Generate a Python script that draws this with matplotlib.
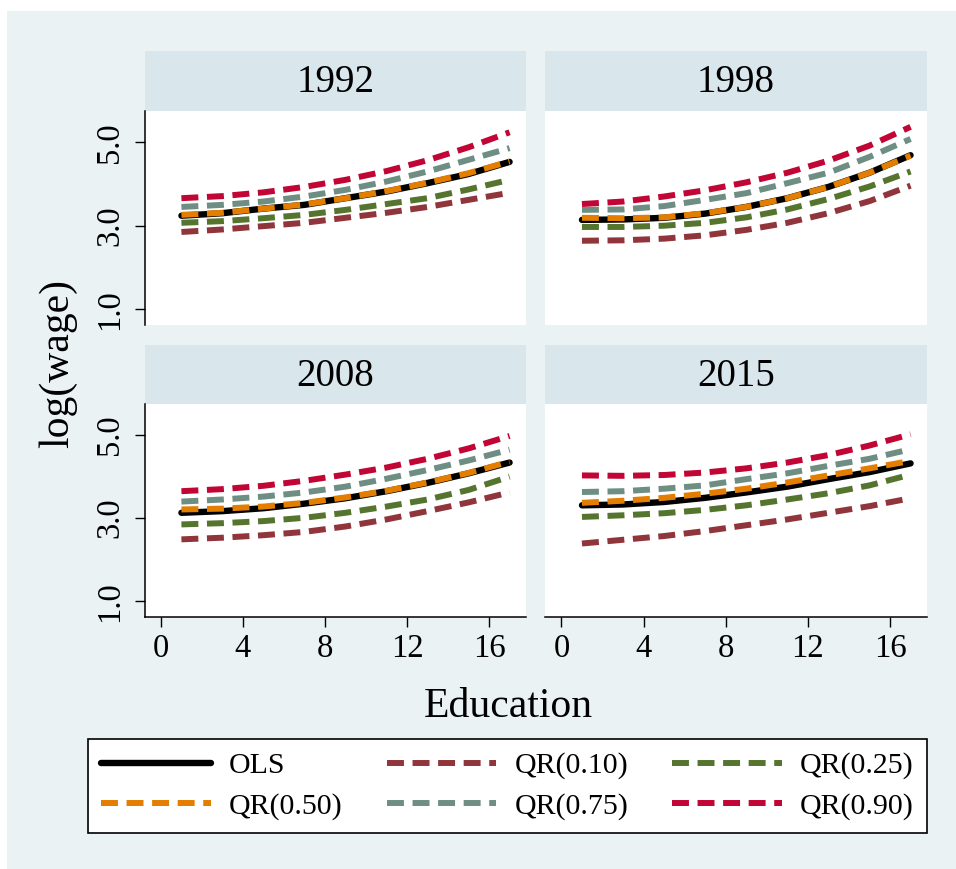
import matplotlib
matplotlib.use("Agg")
import matplotlib.pyplot as plt
from matplotlib.patches import Rectangle

plt.rcParams["font.family"] = ["Liberation Serif", "DejaVu Serif"]
plt.rcParams["lines.scale_dashes"] = False

# ---- data (log wage at given years of education) ----
years = ["1992", "1998", "2008", "2015"]
educ = [1, 3, 5, 7, 9, 11, 13, 15, 17]

ols = [
    [3.24, 3.30, 3.41, 3.50, 3.66, 3.82, 4.02, 4.24, 4.53],
    [3.14, 3.15, 3.19, 3.29, 3.45, 3.66, 3.93, 4.27, 4.69],
    [3.13, 3.17, 3.24, 3.35, 3.48, 3.65, 3.85, 4.08, 4.34],
    [3.31, 3.33, 3.39, 3.49, 3.62, 3.76, 3.94, 4.11, 4.32],
]
qr10 = [
    [2.85, 2.91, 2.99, 3.07, 3.19, 3.31, 3.45, 3.62, 3.79],
    [2.64, 2.65, 2.69, 2.77, 2.90, 3.07, 3.30, 3.59, 3.96],
    [2.49, 2.53, 2.59, 2.67, 2.80, 2.97, 3.17, 3.38, 3.62],
    [2.39, 2.48, 2.57, 2.69, 2.83, 2.97, 3.13, 3.29, 3.48],
]
qr25 = [
    [3.07, 3.11, 3.18, 3.26, 3.38, 3.52, 3.66, 3.87, 4.10],
    [2.97, 2.97, 3.00, 3.07, 3.20, 3.39, 3.64, 3.94, 4.30],
    [2.85, 2.88, 2.93, 3.01, 3.13, 3.28, 3.45, 3.68, 4.00],
    [3.03, 3.07, 3.12, 3.20, 3.31, 3.45, 3.60, 3.79, 4.05],
]
qr50 = [
    [3.26, 3.31, 3.41, 3.51, 3.66, 3.83, 4.03, 4.26, 4.54],
    [3.19, 3.18, 3.20, 3.30, 3.45, 3.66, 3.93, 4.27, 4.68],
    [3.21, 3.23, 3.28, 3.37, 3.50, 3.66, 3.86, 4.09, 4.36],
    [3.37, 3.42, 3.49, 3.59, 3.71, 3.86, 4.03, 4.20, 4.38],
]
qr75 = [
    [3.45, 3.50, 3.58, 3.70, 3.86, 4.06, 4.30, 4.58, 4.86],
    [3.38, 3.39, 3.47, 3.62, 3.78, 4.02, 4.27, 4.65, 5.08],
    [3.40, 3.45, 3.52, 3.62, 3.76, 3.95, 4.16, 4.39, 4.65],
    [3.63, 3.65, 3.71, 3.79, 3.94, 4.08, 4.26, 4.43, 4.66],
]
qr90 = [
    [3.66, 3.71, 3.80, 3.93, 4.10, 4.31, 4.57, 4.88, 5.24],
    [3.52, 3.58, 3.70, 3.85, 4.04, 4.27, 4.56, 4.92, 5.37],
    [3.65, 3.70, 3.78, 3.90, 4.05, 4.22, 4.43, 4.68, 4.98],
    [4.03, 4.02, 4.04, 4.10, 4.20, 4.34, 4.52, 4.75, 5.02],
]

series = [
    ("OLS", ols, "black"),
    ("QR(0.10)", qr10, "#90353B"),
    ("QR(0.25)", qr25, "#55752F"),
    ("QR(0.50)", qr50, "#E37E00"),
    ("QR(0.75)", qr75, "#6E8E84"),
    ("QR(0.90)", qr90, "#C10534"),
]

BG = "#EAF2F3"
HEAD = "#D9E6EB"
DASH = (12.2, 6.2)
W, H = 956, 869


def fx(px):
    return px / W


def fy(py):
    return 1 - py / H


fig = plt.figure(figsize=(W / 100, H / 100), dpi=100, facecolor="white")
fig.patches.append(Rectangle((fx(7), 0), 1 - fx(7), fy(11), transform=fig.transFigure,
                             facecolor=BG, edgecolor="none", zorder=-10))

cols = [(144.5, 526), (545, 927)]
rows = [(51, 111, 325), (345, 404, 617)]

handles = {}
for i, yr in enumerate(years):
    r, c = divmod(i, 2)
    x0, x1 = cols[c]
    htop, ptop, pbot = rows[r]
    # panel header strip
    hax = fig.add_axes([fx(x0), fy(ptop), fx(x1) - fx(x0), fy(htop) - fy(ptop)])
    hax.set_facecolor(HEAD)
    hax.set_xticks([])
    hax.set_yticks([])
    for s in hax.spines.values():
        s.set_visible(False)
    hax.text(0.5, 0.47, yr, ha="center", va="center", fontsize=28, transform=hax.transAxes)

    ax = fig.add_axes([fx(x0), fy(pbot), fx(x1) - fx(x0), fy(ptop) - fy(pbot)])
    ax.set_facecolor("white")
    for name, data, color in series:
        if name == "OLS":
            ln, = ax.plot(educ, data[i], color=color, lw=4.6, solid_capstyle="round")
        else:
            ln, = ax.plot(educ, data[i], color=color, lw=4.3, dashes=DASH,
                          dash_capstyle="butt")
        handles[name] = ln
    ax.set_xlim(-0.8, 17.8)
    ax.set_ylim(0.62, 5.75)
    for s in ["top", "right"]:
        ax.spines[s].set_visible(False)
    ax.spines["left"].set_visible(c == 0)
    ax.spines["bottom"].set_visible(r == 1)
    for s in ["left", "bottom"]:
        ax.spines[s].set_linewidth(1.1)
    ax.set_xticks([0, 4, 8, 12, 16])
    ax.set_yticks([1.0, 3.0, 5.0])
    ax.set_yticklabels(["1.0", "3.0", "5.0"])
    ax.tick_params(axis="both", length=7, width=1.0, labelsize=23.5)
    ax.tick_params(axis="x", pad=5, bottom=(r == 1), labelbottom=(r == 1))
    ax.tick_params(axis="y", pad=7, labelrotation=90, left=(c == 0), labelleft=(c == 0))
    for lab in ax.get_yticklabels():
        lab.set_va("center")

fig.text(fx(508), fy(717), "Education", ha="center", va="baseline", fontsize=30)
fig.text(fx(58), fy(364), "log(wage)", ha="center", va="center", rotation=90, fontsize=30)

# legend is filled column-wise, so reorder to get Stata's row-wise layout
order = ["OLS", "QR(0.50)", "QR(0.10)", "QR(0.75)", "QR(0.25)", "QR(0.90)"]
leg = fig.legend([handles[k] for k in order], order, ncol=3, mode="expand",
                 loc="center", bbox_to_anchor=(fx(88), fy(835), fx(927) - fx(88), fy(737) - fy(835)),
                 borderaxespad=0, fontsize=21.5, handlelength=3.68, handletextpad=0.6,
                 borderpad=0.45, labelspacing=0.45, fancybox=False, framealpha=1,
                 edgecolor="black", facecolor="white")
leg.get_frame().set_linewidth(1.2)

fig.savefig("out.png", dpi=100, facecolor=fig.get_facecolor())
